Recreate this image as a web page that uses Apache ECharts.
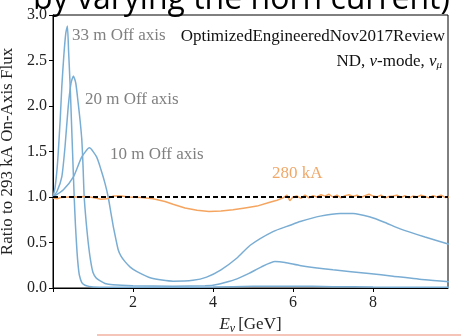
<!DOCTYPE html>
<html>
<head>
<meta charset="utf-8">
<script src="https://cdn.jsdelivr.net/npm/echarts@6/dist/echarts.min.js"></script>
<style>html,body{margin:0;padding:0;background:#fff;}#c{width:461px;height:336px;}</style>
</head>
<body>
<div id="c"></div>
<script>
// ---- data ----
var xTicks = [2, 4, 6, 8];
var yTicks = [0.0, 0.5, 1.0, 1.5, 2.0, 2.5, 3.0];

var e33 = [0.0, 0.05, 0.1, 0.13, 0.18, 0.22, 0.27, 0.32, 0.36, 0.39, 0.43, 0.46, 0.49, 0.53, 0.56, 0.6, 0.63, 0.66, 0.72, 0.8, 0.9, 1.0, 1.5, 2, 3, 4, 5, 6, 7, 8, 9, 9.9];
var v33 = [1.0, 1.1, 1.3, 1.48, 1.85, 2.21, 2.55, 2.8, 2.88, 2.6, 2.21, 1.85, 1.48, 1.0, 0.7, 0.4, 0.24, 0.14, 0.06, 0.03, 0.018, 0.012, 0.009, 0.008, 0.008, 0.01, 0.018, 0.02, 0.015, 0.01, 0.008, 0.007];

var e20 = [0.0, 0.1, 0.22, 0.3, 0.38, 0.45, 0.51, 0.57, 0.63, 0.68, 0.72, 0.75, 0.78, 0.83, 0.88, 0.94, 1.0, 1.08, 1.17, 1.3, 1.5, 2, 3, 3.8, 4.0, 4.3, 4.6, 4.9, 5.2, 5.55, 5.8, 6.2, 7, 7.9, 8.5, 9.3, 9.9];
var v20 = [1.0, 1.06, 1.22, 1.55, 1.99, 2.25, 2.33, 2.25, 2.03, 1.83, 1.63, 1.35, 1.0, 0.72, 0.5, 0.3, 0.17, 0.11, 0.08, 0.05, 0.035, 0.025, 0.02, 0.025, 0.03, 0.06, 0.1, 0.16, 0.23, 0.29, 0.28, 0.245, 0.2, 0.16, 0.13, 0.09, 0.07];

var e10 = [0.0, 0.26, 0.51, 0.72, 0.91, 1.09, 1.2, 1.3, 1.38, 1.45, 1.51, 1.57, 1.63, 1.7, 1.8, 1.93, 2.1, 2.45, 3.0, 3.5, 3.84, 4.2, 4.6, 4.93, 5.5, 5.93, 6.18, 6.68, 7.18, 7.5, 7.93, 8.3, 8.68, 9.3, 9.9];
var v10 = [1.0, 1.08, 1.22, 1.44, 1.54, 1.44, 1.3, 1.15, 1.0, 0.82, 0.67, 0.54, 0.42, 0.35, 0.29, 0.23, 0.18, 0.11, 0.075, 0.085, 0.12, 0.2, 0.33, 0.47, 0.62, 0.69, 0.73, 0.79, 0.82, 0.82, 0.78, 0.72, 0.65, 0.56, 0.48];

var e280 = [0.0, 0.1, 0.2, 0.4, 0.6, 0.8, 1.0, 1.2, 1.35, 1.5, 1.7, 1.9, 2.2, 2.5, 2.8, 3.0, 3.3, 3.6, 3.9, 4.2, 4.5, 4.8, 5.1, 5.4, 5.6, 5.75, 5.85, 5.92, 6.0,
  6.1, 6.2, 6.3, 6.4, 6.5, 6.6, 6.7, 6.8, 6.9, 7.0, 7.1, 7.2, 7.3, 7.4, 7.5, 7.6, 7.7, 7.8, 7.9, 8.0, 8.1, 8.2, 8.3, 8.4, 8.5, 8.6, 8.7, 8.8, 8.9, 9.0, 9.1, 9.2, 9.3, 9.4, 9.5, 9.6, 9.7, 9.8, 9.9];
var v280 = [0.99, 0.98, 0.995, 1.0, 1.0, 1.005, 0.995, 0.975, 0.98, 1.01, 1.01, 1.0, 0.995, 0.98, 0.95, 0.92, 0.88, 0.855, 0.84, 0.845, 0.86, 0.88, 0.9, 0.94, 0.965, 0.99, 1.02, 0.96, 1.0,
  1.01, 0.985, 1.02, 0.99, 1.015, 1.0, 1.025, 1.01, 1.03, 1.0, 1.02, 0.99, 1.015, 1.025, 1.005, 1.02, 0.995, 1.015, 1.03, 1.01, 1.0, 1.02, 0.99, 1.005, 1.01, 1.02, 0.995, 1.015, 0.99, 1.01, 1.0, 1.02, 1.005, 0.99, 1.015, 1.0, 1.02, 0.995, 1.0];

var refLevel = 1.0;

function pairs(xs, ys) { return xs.map(function (x, i) { return [x, ys[i]]; }); }

var SERIF = '"Liberation Serif", "DejaVu Serif", serif';
var BLUE = '#7aadd3';
var ORANGE = '#f5a55f';

var chart = echarts.init(document.getElementById('c'), null, { renderer: 'canvas' });
chart.setOption({
  animation: false,
  backgroundColor: '#fff',
  grid: { left: 53, right: 13, top: 15, bottom: 48, show: true, borderColor: '#000', borderWidth: 1, containLabel: false, outerBoundsMode: 'none' },
  xAxis: {
    type: 'value', min: 0, max: 9.875, interval: 2,
    axisLine: { show: true, lineStyle: { color: '#000', width: 1 } },
    axisTick: { show: true, inside: false, length: 4, lineStyle: { color: '#000' } },
    splitLine: { show: false },
    axisLabel: {
      color: '#222', fontFamily: SERIF, fontSize: 16, margin: 7, showMaxLabel: false,
      formatter: function (v) { return xTicks.indexOf(v) >= 0 ? String(v) : ''; }
    },
    name: '{i|E}{s|ν} {n|[GeV]}', nameLocation: 'middle', nameGap: 27,
    nameTextStyle: {
      fontFamily: SERIF, color: '#222',
      rich: {
        i: { fontFamily: SERIF, fontStyle: 'italic', fontSize: 17, color: '#222' },
        s: { fontFamily: SERIF, fontStyle: 'italic', fontSize: 12, color: '#222', verticalAlign: 'bottom', padding: [8, 0, 0, 0] },
        n: { fontFamily: SERIF, fontSize: 17, color: '#222' }
      }
    }
  },
  yAxis: {
    type: 'value', min: 0, max: 3, interval: 0.5,
    axisLine: { show: true, lineStyle: { color: '#000', width: 1 } },
    axisTick: { show: true, inside: false, length: 4, lineStyle: { color: '#000' } },
    splitLine: { show: false },
    axisLabel: {
      color: '#222', fontFamily: SERIF, fontSize: 16, margin: 6,
      formatter: function (v) { return yTicks.indexOf(v) >= 0 ? v.toFixed(1) : ''; }
    },
    name: 'Ratio to 293 kA On-Axis Flux', nameLocation: 'middle', nameGap: 31,
    nameTextStyle: { fontFamily: SERIF, fontSize: 17, color: '#222' }
  },
  series: [
    { type: 'line', data: pairs(e33, v33), showSymbol: false, smooth: 0.2, lineStyle: { color: BLUE, width: 1.5 }, z: 3 },
    { type: 'line', data: pairs(e20, v20), showSymbol: false, smooth: 0.2, lineStyle: { color: BLUE, width: 1.5 }, z: 3 },
    { type: 'line', data: pairs(e10, v10), showSymbol: false, smooth: 0.2, lineStyle: { color: BLUE, width: 1.5 }, z: 3 },
    { type: 'line', data: pairs(e280, v280), showSymbol: false, smooth: false, lineStyle: { color: ORANGE, width: 1.5 }, z: 4,
      markLine: {
        silent: true, symbol: ['none', 'none'], label: { show: false },
        lineStyle: { color: '#000', width: 1.8, type: [5, 3] },
        data: [{ yAxis: refLevel }]
      }
    }
  ],
  graphic: [
    { type: 'text', x: 72, y: 27, style: { text: '33 m Off axis', fontFamily: SERIF, fontSize: 17, fill: '#808080' } },
    { type: 'text', x: 85, y: 91, style: { text: '20 m Off axis', fontFamily: SERIF, fontSize: 17, fill: '#808080' } },
    { type: 'text', x: 110, y: 146, style: { text: '10 m Off axis', fontFamily: SERIF, fontSize: 17, fill: '#808080' } },
    { type: 'text', x: 272, y: 165, style: { text: '280 kA', fontFamily: SERIF, fontSize: 17, fill: '#f0a868' } },
    { type: 'text', x: 445, y: 28, style: { text: 'OptimizedEngineeredNov2017Review', align: 'right', fontFamily: SERIF, fontSize: 17, fill: '#111' } },
    { type: 'text', x: 442, y: 52, style: {
        text: '{n|ND, }{i|ν}{n|-mode, }{i|ν}{s|μ}', align: 'right', fontFamily: SERIF, fontSize: 17, fill: '#111',
        rich: {
          n: { fontFamily: SERIF, fontSize: 17, fill: '#111' },
          i: { fontFamily: SERIF, fontStyle: 'italic', fontSize: 17, fill: '#111' },
          s: { fontFamily: SERIF, fontStyle: 'italic', fontSize: 11, fill: '#111', padding: [8, 0, 0, 0] }
        }
      } },
    { type: 'text', x: 33, y: -16, z: 100, style: { text: 'by varying the horn current)', fontFamily: '"Open Sans", "Liberation Sans", sans-serif', fontSize: 32, fill: '#000' } },
    { type: 'line', shape: { x1: 97, y1: 335, x2: 461, y2: 335 }, style: { stroke: '#f2b2a2', lineWidth: 1.5 } }
  ]
});
</script>
</body>
</html>
